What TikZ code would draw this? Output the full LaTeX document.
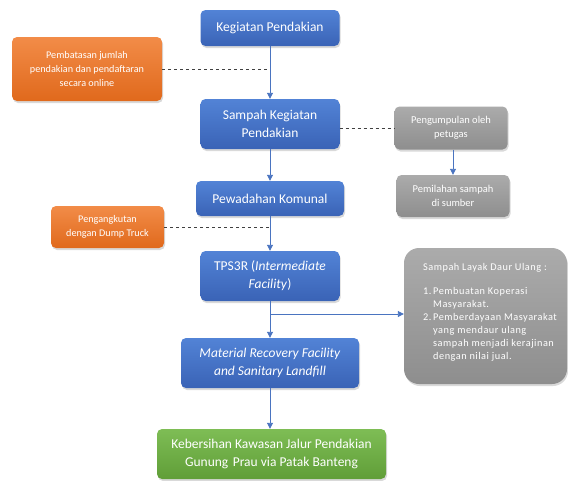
\documentclass[tikz,border=0pt]{standalone}
\usepackage{fontspec}
\setmainfont{Carlito}
\usetikzlibrary{arrows.meta,shadows}

\definecolor{bluetop}{HTML}{5283D6}
\definecolor{bluebot}{HTML}{3A63B6}
\definecolor{orangetop}{HTML}{F28C48}
\definecolor{orangebot}{HTML}{E0691C}
\definecolor{graytop}{HTML}{ABABAB}
\definecolor{graybot}{HTML}{8E8E8E}
\definecolor{greentop}{HTML}{7EBD55}
\definecolor{greenbot}{HTML}{609E38}
\definecolor{flowline}{HTML}{4A74C0}

\tikzset{
  box/.style={rounded corners=5pt, text=white, align=center, inner sep=2pt,
    drop shadow={opacity=0.3, shadow xshift=1pt, shadow yshift=-2pt}},
  bluebox/.style={box, top color=bluetop, bottom color=bluebot, font=\fontsize{13.5}{18}\selectfont},
  orangebox/.style={box, top color=orangetop, bottom color=orangebot, font=\fontsize{10.2}{14}\selectfont},
  graybox/.style={box, top color=graytop, bottom color=graybot, font=\fontsize{10.5}{14}\selectfont},
  greenbox/.style={box, top color=greentop, bottom color=greenbot, font=\fontsize{13.5}{18}\selectfont},
  flow/.style={draw=flowline, line width=0.9pt, -{Triangle[width=6pt,length=6pt]}},
  link/.style={draw=black!75, dashed, line width=0.6pt}
}

\begin{document}
\begin{tikzpicture}[x=1pt, y=-1pt]
				\useasboundingbox (0,0) rectangle (568,480);
				\node[bluebox, minimum width=139pt, minimum height=36pt] (keg) at (270,28) {Kegiatan Pendakian};
				\node[orangebox, minimum width=150pt, minimum height=64pt] (batas) at (87,69) {Pembatasan jumlah\\pendakian dan pendaftaran\\secara online};
				\node[bluebox, minimum width=139pt, minimum height=50pt] (sampah) at (270,124) {Sampah Kegiatan\\Pendakian};
				\node[graybox, minimum width=113pt, minimum height=43pt] (kumpul) at (451,128) {Pengumpulan oleh\\petugas};
				\node[graybox, minimum width=113pt, minimum height=42pt] (pilah) at (453,196) {Pemilahan sampah\\di sumber};
				\node[bluebox, minimum width=148pt, minimum height=35pt] (wadah) at (270,198.5) {Pewadahan Komunal};
				\node[orangebox, minimum width=113pt, minimum height=42pt] (angkut) at (107.5,227) {Pengangkutan\\dengan Dump Truck};
				\node[bluebox, minimum width=139pt, minimum height=50pt] (tps) at (270,276) {TPS3R (\textit{Intermediate}\\\textit{Facility})};
				\node[graybox, rounded corners=15pt, minimum width=163pt, minimum height=136pt, align=left,
					font=\fontsize{10.3}{13}\selectfont\addfontfeature{LetterSpace=5}] (daur) at (485.5,316) {%
					\begin{tabular}{@{\hspace{9pt}}l@{\,}l@{}}
					\multicolumn{2}{@{\hspace{9pt}}l@{}}{Sampah Layak Daur Ulang :}\\[11pt]
					1. & Pembuatan Koperasi\\
					   & Masyarakat.\\
					2. & Pemberdayaan Masyarakat\\
					   & yang mendaur ulang\\
					   & sampah menjadi kerajinan\\
					   & dengan nilai jual.\\[8pt]
					\end{tabular}};
				\node[bluebox, minimum width=178pt, minimum height=50pt] (mrf) at (270,363) {\textit{Material Recovery Facility}\\\textit{and Sanitary Landfill}};
				\node[greenbox, minimum width=229pt, minimum height=50pt] (bersih) at (271.5,454) {Kebersihan Kawasan Jalur Pendakian\\Gunung\,\,Prau via Patak Banteng};
				\coordinate (cabang) at (270,314);

				% alur utama
				\draw[flow] (keg) -- (sampah);
				\draw[flow] (sampah) -- (wadah);
				\draw[flow] (wadah) -- (tps);
				\draw[flow] (tps) -- (mrf);
				\draw[flow] (mrf.south) -- (mrf.south |- bersih.north);
				\draw[flow] (kumpul.south -| pilah.north) -- (pilah);
				\draw[flow] (cabang) -- (cabang -| daur.west);

				% garis putus-putus
				\draw[link] (batas.east) -- (batas.east -| keg.south);
				\draw[link] (kumpul.west -| sampah.east) -- (kumpul.west);
				\draw[link] (angkut.east) -- (angkut.east -| wadah.south);
			\end{tikzpicture}
\end{document}
